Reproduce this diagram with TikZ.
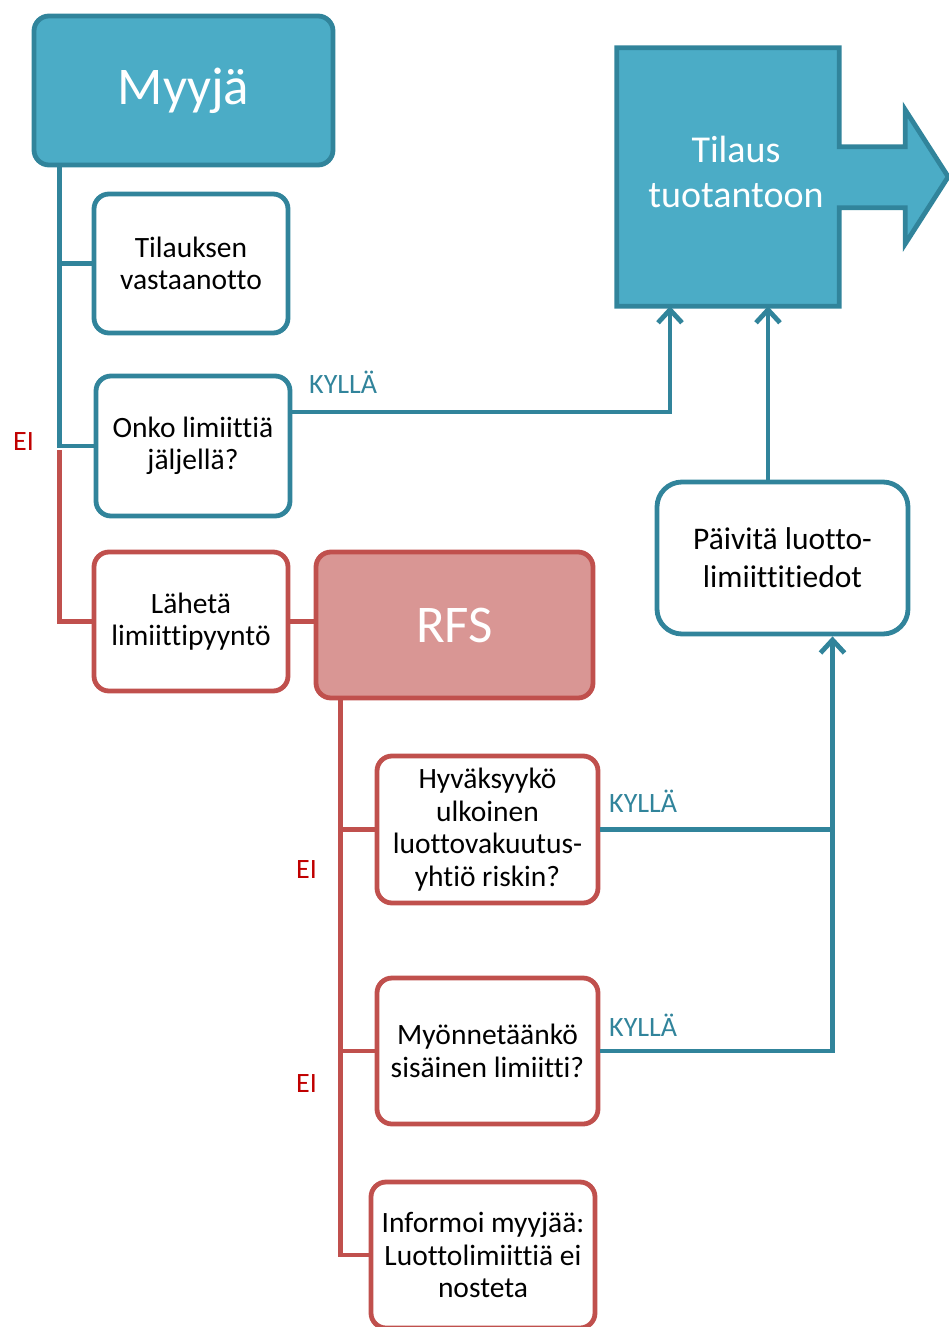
\documentclass[tikz,border=0pt]{standalone}
\usepackage{fontspec}
\setmainfont{Carlito}[Ligatures=CommonOff]
\usetikzlibrary{arrows.meta,backgrounds}
\definecolor{tealline}{HTML}{31849B}
\definecolor{tealfill}{HTML}{4BACC6}
\definecolor{redline}{HTML}{C0504D}
\definecolor{redfill}{HTML}{D99694}
\definecolor{eired}{HTML}{C00000}
\tikzset{
  box/.style={draw, line width=4.8pt, rounded corners=15pt, fill=white,
    align=center, inner sep=0pt, text=black, font=\fontsize{29.5}{32.5}\selectfont},
  tealbox/.style={box, draw=tealline},
  redbox/.style={box, draw=redline},
  headbox/.style={box, text=white, font=\fontsize{53}{58}\selectfont},
  tealconn/.style={draw=tealline, line width=4.8pt},
  redconn/.style={draw=redline, line width=4.8pt},
  arr/.style={tealconn, -{Straight Barb[length=13pt, width=24pt]}},
  yeslabel/.style={text=tealline, font=\fontsize{28}{30}\selectfont, inner sep=0pt},
  nolabel/.style={text=eired, font=\fontsize{28}{30}\selectfont, inner sep=0pt},
}
\begin{document}
\begin{tikzpicture}[x=1pt, y=-1pt]
\useasboundingbox (0,0) rectangle (949,1327);
\clip (0,0) rectangle (949,1327);

% seller column
\node[headbox, draw=tealline, fill=tealfill, minimum width=299pt, minimum height=149pt] (myyja) at (183.5,90.5) {Myyjä};
\node[tealbox, minimum width=194pt, minimum height=139pt] (tilauksen) at (191,263.5) {Tilauksen\\vastaanotto};
\node[tealbox, minimum width=194pt, minimum height=140pt] (onko) at (193,446) {Onko limiittiä\\jäljellä?};
\node[redbox, minimum width=194pt, minimum height=139pt] (lahe) at (191,621.5) {Lähetä\\limiittipyyntö};

% credit department column
\node[headbox, draw=redline, fill=redfill, minimum width=277pt, minimum height=146pt] (rfs) at (454.5,625) {RFS};
\node[redbox, minimum width=221pt, minimum height=147pt] (hyv) at (487.5,829.5) {Hyväksyykö\\ulkoinen\\luottovakuutus-\\yhtiö riskin?};
\node[redbox, minimum width=221pt, minimum height=146pt] (myon) at (487.5,1051) {Myönnetäänkö\\sisäinen limiitti?};
\node[redbox, minimum width=224pt, minimum height=146pt] (info) at (483,1255) {Informoi myyjää:\\Luottolimiittiä ei\\nosteta};

% limit update and production
\node[tealbox, rounded corners=25pt, minimum width=251pt, minimum height=152pt,
  font=\fontsize{31.5}{38}\selectfont] (paivita) at (782.5,558) {Päivitä luotto-\\limiittitiedot};
\node[inner sep=0pt, minimum width=222pt, minimum height=258pt, text=white] (tilaus) at (728,177) {};
\node[align=center, text=white, inner sep=0pt, font=\fontsize{38}{45}\selectfont]
  (tilaustxt) at ([xshift=8pt, yshift=5pt]tilaus.center) {Tilaus\\tuotantoon};
\begin{scope}[on background layer]
  \filldraw[fill=tealfill, draw=tealline, line width=4.8pt, line join=miter]
    (tilaus.north east) -- ++(0,99) -- ++(66,0) -- ++(0,-37) -- ++(43,67)
    -- ++(-43,67) -- ++(0,-36) -- ++(-66,0) -- (tilaus.south east)
    -- (tilaus.south west) -- (tilaus.north west) -- cycle;
\end{scope}

% seller tree
\coordinate (m0) at ([xshift=28pt]myyja.south west);
\draw[tealconn] (m0) |- (tilauksen.west);
\draw[tealconn] (m0) |- (onko.west);
\draw[redconn] ([yshift=-4pt]m0 |- onko.west) |- (lahe.west);
\draw[redconn] (lahe.east) -- (lahe.east -| rfs.west);

% credit department tree
\coordinate (r0) at ([xshift=27pt]rfs.south west);
\draw[redconn] (r0) |- (hyv.west);
\draw[redconn] (r0) |- (myon.west);
\draw[redconn] (r0) |- (info.west);

% yes paths
\draw[arr] ([yshift=34pt]onko.east) -| ([xshift=-58pt]tilaus.south);
\draw[arr] ([xshift=40pt]tilaus.south |- paivita.north) -- ([xshift=40pt]tilaus.south);
\coordinate (j) at ([xshift=50pt]paivita.south);
\draw[tealconn] (hyv.east) -- (hyv.east -| j);
\draw[arr] (myon.east) -| (j);

% branch labels
\node[yeslabel, anchor=west] (y1) at (309,382) {KYLLÄ};
\node[yeslabel, anchor=west] (y2) at (609,801) {KYLLÄ};
\node[yeslabel, anchor=west] (y3) at (609,1025) {KYLLÄ};
\node[nolabel, anchor=west] (n1) at (13,442) {EI};
\node[nolabel, anchor=west] (n2) at (296,870) {EI};
\node[nolabel, anchor=west] (n3) at (296,1084) {EI};
\end{tikzpicture}
\end{document}
